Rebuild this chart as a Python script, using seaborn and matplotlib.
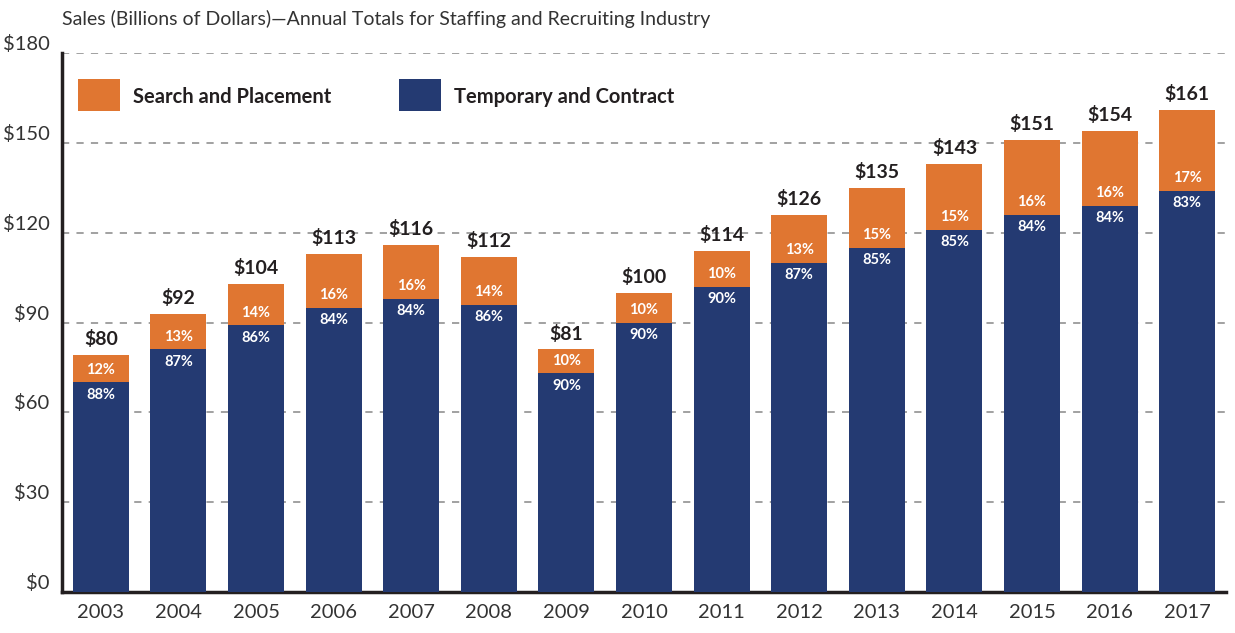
import matplotlib
matplotlib.use("Agg")
import matplotlib.pyplot as plt
import seaborn as sns
import pandas as pd
from matplotlib.patches import Rectangle

# data
years = ["2003", "2004", "2005", "2006", "2007", "2008", "2009", "2010",
         "2011", "2012", "2013", "2014", "2015", "2016", "2017"]
temp_contract = [70, 81, 89, 95, 98, 96, 73, 90, 102, 110, 115, 121, 126, 129, 134]
search_placement = [9, 12, 14, 18, 18, 16, 8, 10, 12, 16, 20, 22, 25, 25, 27]
total_labels = [80, 92, 104, 113, 116, 112, 81, 100, 114, 126, 135, 143, 151, 154, 161]
temp_pct = [88, 87, 86, 84, 84, 86, 90, 90, 90, 87, 85, 85, 84, 84, 83]
search_pct = [12, 13, 14, 16, 16, 14, 10, 10, 10, 13, 15, 15, 16, 16, 17]

NAVY = "#243a72"
ORANGE = "#e07631"
TXT = "#231f20"

sns.set_style("white")
plt.rcParams["font.family"] = ["Lato", "DejaVu Sans"]

df = pd.DataFrame({"Year": years, "Temp": temp_contract, "Search": search_placement})
df["Stack"] = df["Temp"] + df["Search"]

W, H = 1235, 633
fig = plt.figure(figsize=(W / 100, H / 100), dpi=100)
ax = fig.add_axes([62 / W, 41 / H, 1164 / W, 539 / H])

ax.set_axisbelow(True)
for v in range(30, 181, 30):
    ax.axhline(v, color="#9a9a9a", lw=1.3, ls=(0, (4, 4)), zorder=0)

sns.barplot(data=df, x="Year", y="Stack", color=ORANGE, width=0.72,
            saturation=1, linewidth=0, edgecolor="none", ax=ax, zorder=2)
sns.barplot(data=df, x="Year", y="Temp", color=NAVY, width=0.72,
            saturation=1, linewidth=0, edgecolor="none", ax=ax, zorder=3)

for i in range(len(years)):
    top = df["Stack"][i]
    mid = df["Temp"][i]
    ax.annotate(f"${total_labels[i]}", (i, top), xytext=(0, 5), textcoords="offset points",
                ha="center", va="bottom", fontsize=14, fontweight="bold", color=TXT, zorder=5)
    ax.annotate(f"{search_pct[i]}%", (i, mid), xytext=(0, 4), textcoords="offset points",
                ha="center", va="bottom", fontsize=10.5, fontweight="bold", color="white", zorder=5)
    ax.annotate(f"{temp_pct[i]}%", (i, mid), xytext=(0, -4), textcoords="offset points",
                ha="center", va="top", fontsize=10.5, fontweight="bold", color="white", zorder=5)

ax.set_xlim(-0.5, len(years) - 0.5)
ax.set_ylim(0, 180)
ax.set_yticks(range(0, 181, 30))
ax.set_yticklabels([f"${v}" for v in range(0, 181, 30)])
ax.set_xlabel("")
ax.set_ylabel("")
ax.tick_params(axis="both", length=0, labelsize=14.5, labelcolor="#333333")
ax.tick_params(axis="x", pad=9)
ax.tick_params(axis="y", pad=9)
for t in ax.get_yticklabels():
    t.set_verticalalignment("bottom")

for s in ["top", "right"]:
    ax.spines[s].set_visible(False)
for s in ["left", "bottom"]:
    ax.spines[s].set_color(TXT)
    ax.spines[s].set_linewidth(2.5)

# legend swatches and labels
legend_items = [("Search and Placement", ORANGE, 78), ("Temporary and Contract", NAVY, 399)]
for label, col, x0 in legend_items:
    fig.patches.append(Rectangle((x0 / W, (H - 111) / H), 42 / W, 32 / H,
                                 transform=fig.transFigure, facecolor=col, edgecolor="none"))
    fig.text((x0 + 55) / W, (H - 97) / H, label, ha="left", va="center",
             fontsize=14.5, fontweight="bold", color=TXT)

fig.text(62 / W, (H - 19) / H,
         "Sales (Billions of Dollars)\u2014Annual Totals for Staffing and Recruiting Industry",
         ha="left", va="center", fontsize=14, color="#333333")

fig.savefig("out.png", dpi=100)
